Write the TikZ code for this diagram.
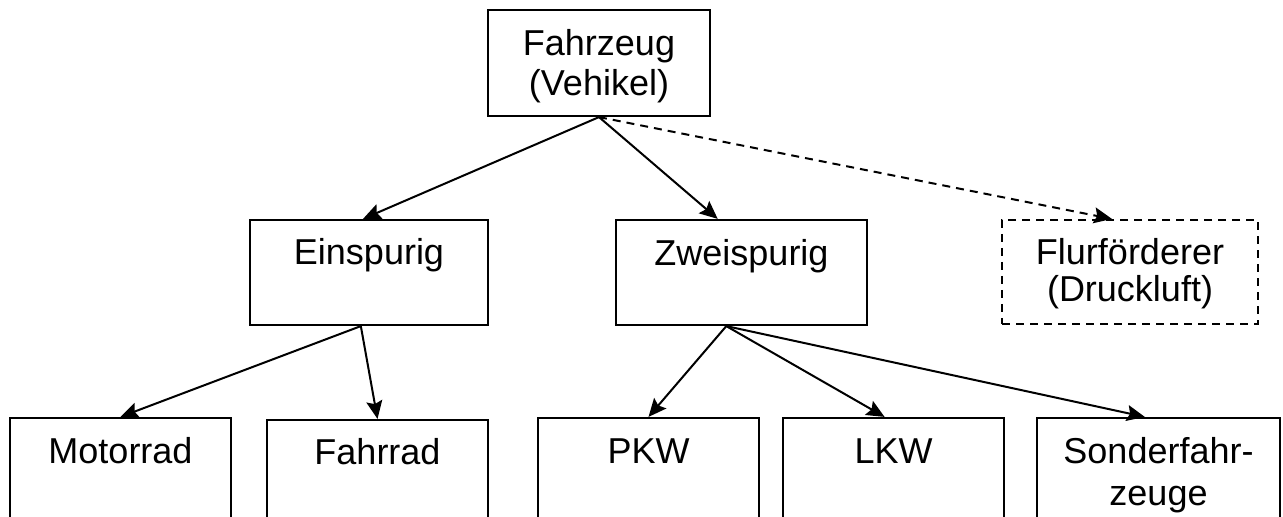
\documentclass[tikz,border=0pt]{standalone}
\usepackage{fontspec}
\setmainfont{Liberation Sans}
\usetikzlibrary{calc,arrows.meta}
\begin{document}
\begin{tikzpicture}[x=0.5pt,y=-0.5pt,
  box/.style={draw=black,line width=1.1pt,inner sep=0pt,fill=white},
  dbox/.style={box,dash pattern=on 4pt off 3pt},
  txt/.style={anchor=base,inner sep=0pt,font=\fontsize{18}{20}\selectfont},
  conn/.style={line width=1pt,-{Stealth[length=9pt,width=8pt,inset=1.5pt]}},
  dconn/.style={conn,dash pattern=on 4pt off 3pt}]
\clip (0,0) rectangle (1283,517);
\fill[white] (0,0) rectangle (1283,517);
% boxes
\node[box,minimum width=111pt,minimum height=53pt] (top) at (599,63) {};
\node[box,minimum width=119pt,minimum height=52.5pt] (ein) at (369,272.5) {};
\node[box,minimum width=125.5pt,minimum height=52.5pt] (zwei) at (741.5,272.5) {};
\node[dbox,minimum width=128pt,minimum height=52pt] (flur) at (1130,272) {};
\node[box,minimum width=110.5pt,minimum height=71pt] (motor) at (120.5,489) {};
\node[box,minimum width=110.5pt,minimum height=70pt] (fahr) at (377.5,490) {};
\node[box,minimum width=110.5pt,minimum height=71pt] (pkw) at (648.5,489) {};
\node[box,minimum width=110.5pt,minimum height=71pt] (lkw) at (893.5,489) {};
\node[box,minimum width=121.5pt,minimum height=71pt] (sonder) at (1158.5,489) {};
% texts
\node[txt] (t1) at (599,56) {Fahrzeug};
\node[txt] (t2) at (599,96) {(Vehikel)};
\node[txt] (t3) at (369,265) {Einspurig};
\node[txt] (t4) at (741.5,266) {Zweispurig};
\node[txt] (t5) at (1130,265) {Flurförderer};
\node[txt] (t6) at (1130,302) {(Druckluft)};
\node[txt] (t7) at (120.5,463) {Motorrad};
\node[txt] (t8) at (377.5,465) {Fahrrad};
\node[txt] (t9) at (648.5,463) {PKW};
\node[txt] (t10) at (893.5,463) {LKW};
\node[txt] (t11) at (1158.5,463) {Sonderfahr-};
\node[txt] (t12) at (1158.5,505) {zeuge};
% connectors
\coordinate (topS) at (top.south);
\coordinate (einS) at ($(ein.south west)!0.466!(ein.south east)$);
\coordinate (zweiS) at ($(zwei.south west)!0.44!(zwei.south east)$);
\draw[conn] (topS) -- ($(ein.north west)!0.475!(ein.north east)$);
\draw[conn] (topS) -- ($(zwei.north west)!0.406!(zwei.north east)$);
\draw[dconn] (topS) -- ($(flur.north west)!0.43!(flur.north east)$);
\draw[conn] (einS) -- (motor.north);
\draw[conn] (einS) -- (fahr.north);
\draw[conn] (zweiS) -- (pkw.north);
\draw[conn] (zweiS) -- ($(lkw.north west)!0.46!(lkw.north east)$);
\draw[conn] (zweiS) -- ($(sonder.north west)!0.444!(sonder.north east)$);
\end{tikzpicture}
\end{document}
